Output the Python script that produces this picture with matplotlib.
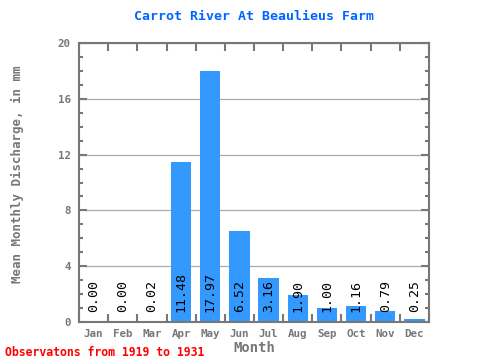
import matplotlib
matplotlib.use("Agg")
import matplotlib.pyplot as plt
from matplotlib.ticker import MultipleLocator

months = ["Jan", "Feb", "Mar", "Apr", "May", "Jun", "Jul", "Aug", "Sep", "Oct", "Nov", "Dec"]
values = [0.00, 0.00, 0.02, 11.48, 17.97, 6.52, 3.16, 1.90, 1.00, 1.16, 0.79, 0.25]

title = "Carrot River At Beaulieus Farm"
ylabel = "Mean Monthly Discharge, in mm"
xlabel = "Month"
note = "Observatons from 1919 to 1931"

mono = "DejaVu Sans Mono"
gray = "#777777"

fig = plt.figure(figsize=(4.8, 3.6), dpi=100)
ax = fig.add_axes([79/480, 1-322/360, 350/480, 279/360])

x = list(range(len(months)))
ax.bar(x, values, width=0.7, color="#3399FF", zorder=2)
ax.set_xlim(-0.5, 11.5)
ax.set_ylim(0, 20)

for i, v in enumerate(values):
    ax.text(i, 0.7, f"{v:.2f}", rotation=90, ha="center", va="bottom",
            family=mono, fontsize=9.5, color="black", zorder=3)

ax.yaxis.set_major_locator(MultipleLocator(4))
ax.yaxis.set_minor_locator(MultipleLocator(1))
ax.grid(axis="y", which="major", color="#aaaaaa", linewidth=0.9, zorder=1)

ax.set_xticks(x)
ax.set_xticklabels(months, family=mono, fontsize=7.8, fontweight="bold", color=gray)
ax.set_xticks([i + 0.5 for i in range(-1, 12)], minor=True)
ax.tick_params(axis="x", which="major", length=0, pad=5)
ax.tick_params(axis="x", which="minor", direction="in", length=6, width=1.5, color=gray, top=True, bottom=True)
ax.tick_params(axis="y", which="major", direction="in", length=6, width=1.5, color=gray, left=True, right=True,
               labelsize=7.8, labelcolor=gray, pad=6)
ax.tick_params(axis="y", which="minor", direction="in", length=3, width=1.5, color=gray, left=True, right=True)
for lab in ax.get_yticklabels():
    lab.set_family(mono)
    lab.set_fontweight("bold")

for sp in ax.spines.values():
    sp.set_color(gray)
    sp.set_linewidth(1.5)

fig.text(254/480, 1-348/360, xlabel, ha="center", va="center", family=mono, fontsize=10,
         fontweight="bold", color=gray)
fig.text(17/480, 1-174/360, ylabel, ha="center", va="center", rotation=90, family=mono,
         fontsize=9, fontweight="bold", color=gray)

fig.text(254/480, 1-17/360, title, ha="center", va="center", family=mono, fontsize=9.5,
         fontweight="bold", color="#0066FF")
fig.text(5/480, 1-352/360, note, ha="left", va="center", family=mono, fontsize=8.3,
         fontweight="bold", color="red")

fig.savefig("out.png", dpi=100)
